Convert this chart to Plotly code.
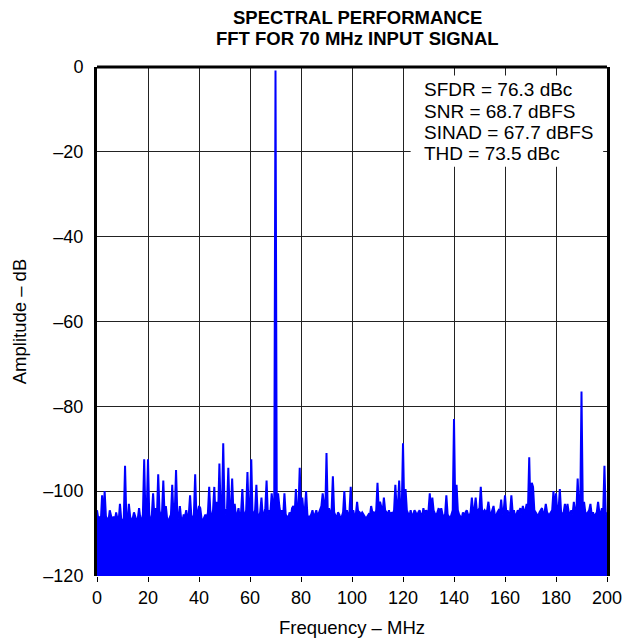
import plotly.graph_objects as go

# FFT magnitude, one value per 0.5 MHz bin, 0 ... 200 MHz (dB)
BIN_MHZ = 0.5
amp_000 = [-104.5, -106.5, -106, -107, -101, -106.5, -100, -106, -106.5, -107,
           -104.5, -106, -107, -106, -107, -105, -106.5, -107, -103, -106.5]
amp_010 = [-107, -106.5, -94, -106.5, -107, -103, -106, -107, -106.5, -105,
           -106, -107, -106.5, -104, -106.5, -107, -105.5, -92.5, -106, -105]
amp_020 = [-92.5, -106, -107, -105.5, -100.5, -106, -104, -106, -96, -104.5,
           -106, -105, -97.5, -105.5, -103.5, -106.5, -107, -106, -105.5, -98.5]
amp_030 = [-106, -105, -95, -105.5, -106.5, -103.5, -106.5, -107, -105.5, -106,
           -104.5, -106.5, -105.5, -101, -106, -106.5, -105.5, -96, -106.5, -105]
amp_040 = [-103.5, -104, -106.5, -107, -106, -105.5, -106.5, -105, -99, -105.5,
           -106, -104.5, -99, -106, -102.5, -105.5, -93.5, -105, -104.5, -88.7]
amp_050 = [-104, -105.5, -104, -94.5, -105, -104.5, -97, -105, -103, -106,
           -105.5, -104, -106.5, -105, -99.5, -106, -105.5, -104.5, -95.5, -105.5]
amp_060 = [-104, -92.5, -106, -105, -104.5, -98.5, -105.5, -106, -105, -101.5,
           -106, -105.5, -104, -97.5, -105.5, -104.5, -105, -100.5, -103.5, -104]
amp_070 = [-0.8, -104, -100.5, -103.5, -105.5, -104.5, -106, -100.5, -105.5, -106,
           -106.5, -105, -106, -104, -103.5, -105.5, -99.5, -105, -104.5, -94.5]
amp_080 = [-105.5, -101.5, -105, -104.5, -100, -105.5, -106.5, -106, -105.5, -104.5,
           -106, -105.5, -104.5, -106, -105, -104.5, -103.5, -100.5, -104, -105.5]
amp_090 = [-91, -105, -104, -105.5, -104.5, -96.5, -105, -106, -106.5, -105,
           -105.5, -106.5, -106, -105, -100, -105.5, -104.5, -106, -105, -99]
amp_100 = [-105.5, -104.5, -106, -105.5, -102.5, -105.5, -105, -105.5, -105, -105.5,
           -106, -106.5, -106, -105.5, -106, -103.5, -105, -105, -105.5, -104.5]
amp_110 = [-98, -104.5, -102.5, -104, -105, -101.5, -104.5, -105, -105.5, -104.5,
           -106, -105, -105.5, -104.5, -98.5, -104, -103.5, -97.5, -105, -104.5]
amp_120 = [-88.7, -104.5, -99.5, -104.5, -105.5, -106, -104.5, -106, -105.5, -104.5,
           -105, -106, -105, -104.5, -105.5, -106, -104, -105.5, -104.5, -105]
amp_130 = [-104.5, -100.5, -105, -101.5, -104.5, -105.5, -106, -105, -104, -105.5,
           -104, -105.5, -106, -105.5, -101, -105.5, -106, -106.5, -105.5, -104.5]
amp_140 = [-83, -105, -98.5, -104.5, -105.5, -106, -106.5, -105, -106, -105,
           -104.5, -105.5, -106, -105, -101.5, -105, -104.5, -101.5, -105, -104.5]
amp_150 = [-104, -99, -104.5, -105, -104.5, -105, -104.5, -102.5, -105, -105.5,
           -104.5, -103.5, -105.5, -106, -105, -104.5, -105, -102, -105.5, -104.5]
amp_160 = [-101, -105, -104.5, -105.5, -105, -101, -105, -104.5, -106, -105.5,
           -104.5, -105, -104, -105.5, -103.5, -105, -104.5, -103, -104.5, -92]
amp_170 = [-105, -98, -99, -104.5, -105, -105.5, -106, -105, -104.5, -104,
           -105.5, -105, -103, -105, -105.5, -105.5, -105, -104.5, -100, -105]
amp_180 = [-100.5, -105, -104.5, -99.5, -105, -105.5, -105, -103, -105.5, -103,
           -105, -105.5, -104.5, -105.5, -102.5, -105, -104.5, -97, -104, -104.5]
amp_190 = [-76.5, -104, -102.5, -105, -105.5, -105, -104.5, -103, -105.5, -105,
           -106, -105.5, -105, -102.5, -105, -105.5, -104, -105, -94, -105.5]
amp_200 = [-105]

amplitude_db = (amp_000 + amp_010 + amp_020 + amp_030 + amp_040 + amp_050 + amp_060
                + amp_070 + amp_080 + amp_090 + amp_100 + amp_110 + amp_120 + amp_130
                + amp_140 + amp_150 + amp_160 + amp_170 + amp_180 + amp_190 + amp_200)
freq_mhz = [i * BIN_MHZ for i in range(len(amplitude_db))]

x_ticks = [0, 20, 40, 60, 80, 100, 120, 140, 160, 180, 200]
y_ticks = [0, -20, -40, -60, -80, -100, -120]
y_tick_text = ["0", "–20", "–40", "–60", "–80", "–100", "–120"]

stats_lines = ["SFDR = 76.3 dBc", "SNR = 68.7 dBFS", "SINAD = 67.7 dBFS", "THD = 73.5 dBc"]
stats_y_db = [-5.3, -10.5, -15.5, -20.5]

title_lines = ["SPECTRAL PERFORMANCE", "FFT FOR 70 MHz INPUT SIGNAL"]
title_y_px = [17, 38]

FONT = "Liberation Sans, Arial, Helvetica, sans-serif"
BLUE = "#0000FF"
Y_BOTTOM = -120
MARGIN_T, MARGIN_B = 67, 65
PLOT_H = 641 - MARGIN_T - MARGIN_B

fig = go.Figure()
# baseline at the bottom of the amplitude axis, the spectrum is filled down to it
fig.add_trace(go.Scatter(x=freq_mhz, y=[Y_BOTTOM] * len(freq_mhz), mode="lines",
                         line=dict(width=0, color=BLUE), hoverinfo="skip", showlegend=False))
fig.add_trace(go.Scatter(x=freq_mhz, y=amplitude_db, mode="lines",
                         line=dict(color=BLUE, width=2), fill="tonexty", fillcolor=BLUE,
                         showlegend=False))

# white panel behind the performance figures
fig.add_shape(type="rect", xref="x", yref="y", x0=123, x1=198.5, y0=-23.5, y1=-2,
              fillcolor="white", line=dict(width=0), layer="above")
# top border of the frame
fig.add_shape(type="line", xref="paper", yref="paper", x0=0, x1=1, y0=1, y1=1,
              line=dict(color="black", width=3), layer="above")

for txt, yv in zip(stats_lines, stats_y_db):
    fig.add_annotation(text=txt, x=127.3, y=yv, xref="x", yref="y", xanchor="left",
                       yanchor="middle", showarrow=False,
                       font=dict(family=FONT, size=19, color="black"))

for txt, ypx in zip(title_lines, title_y_px):
    fig.add_annotation(text=f"<b>{txt}</b>", x=0.51, y=1 + (MARGIN_T - ypx) / PLOT_H,
                       xref="paper", yref="paper", xanchor="center", yanchor="middle",
                       showarrow=False, font=dict(family=FONT, size=18.5, color="black"))

fig.update_layout(
    width=633, height=641,
    margin=dict(l=97, r=26, t=MARGIN_T, b=MARGIN_B, autoexpand=False),
    paper_bgcolor="white", plot_bgcolor="white",
    font=dict(family=FONT, size=18, color="black"),
    xaxis=dict(range=[0, 200], tickvals=x_ticks, showgrid=True, gridcolor="#222222",
               gridwidth=1, zeroline=False, showline=False, ticks="outside", ticklen=5,
               tickwidth=1, tickcolor="black", tickfont=dict(size=18), automargin=False,
               title=dict(text="Frequency – MHz", font=dict(size=18.5), standoff=14)),
    yaxis=dict(range=[-120, 0], tickvals=y_ticks, ticktext=y_tick_text, showgrid=True,
               gridcolor="#222222", gridwidth=1, zeroline=False, showline=True, mirror=True,
               linewidth=3, linecolor="black", ticks="", tickfont=dict(size=18),
               ticklabelstandoff=7, automargin=False,
               title=dict(text="Amplitude – dB", font=dict(size=18.5), standoff=12)),
)

fig.write_html("out.html")
